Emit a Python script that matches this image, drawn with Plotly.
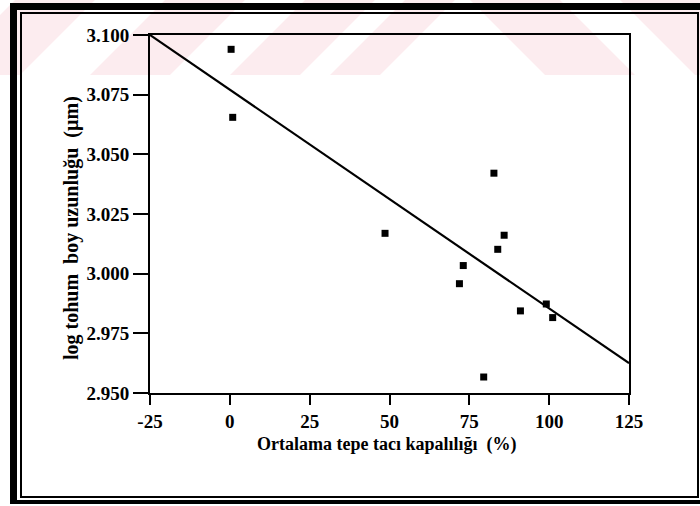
import plotly.graph_objects as go

# ---- data ----
canopy = [0.4, 0.9, 48.6, 73.1, 71.9, 82.7, 85.9, 83.9, 79.5, 91.0, 99.1, 101.1]
log_len = [3.094, 3.0655, 3.0169, 3.0034, 2.9958, 3.0421, 3.0161, 3.0102, 2.9567, 2.9844, 2.9873, 2.9816]
fit_x = [-25, 125]
fit_y = [3.100, 2.9625]
x_ticks = [-25, 0, 25, 50, 75, 100, 125]
x_tick_text = ["-25", "0", "25", "50", "75", "100", "125"]
y_ticks = [2.950, 2.975, 3.000, 3.025, 3.050, 3.075, 3.100]
y_tick_text = ["2.950", "2.975", "3.000", "3.025", "3.050", "3.075", "3.100"]
x_title = "Ortalama tepe tacı kapalılığı  (%)"
y_title = "log tohum  boy uzunluğu  (µm)"

W, H = 700, 506
L, R, T, B = 150, 629, 35, 393


def px(p):
    return (p - L) / (R - L)


def py(p):
    return (B - p) / (B - T)


FONT = "Liberation Serif"

fig = go.Figure()
fig.add_trace(go.Scatter(x=fit_x, y=fit_y, mode="lines",
                         line=dict(color="black", width=2.2), showlegend=False))
fig.add_trace(go.Scatter(x=canopy, y=log_len, mode="markers",
                         marker=dict(symbol="square", size=7, color="black"),
                         showlegend=False))

shapes = []
pink = "rgba(248,205,214,0.38)"
# faint watermark bands in the top strip
for b0, b1 in [(-60, 20), (90, 170), (230, 300), (330, 380)]:
    shapes.append(dict(type="path", xref="paper", yref="paper", layer="below",
                       path=f"M {px(b0)},{py(75)} L {px(b1)},{py(75)} L {px(b1+75)},{py(0)} L {px(b0+75)},{py(0)} Z",
                       fillcolor=pink, line=dict(width=0)))
for t0, t1 in [(470, 560), (620, 720)]:
    shapes.append(dict(type="path", xref="paper", yref="paper", layer="below",
                       path=f"M {px(t0)},{py(0)} L {px(t1)},{py(0)} L {px(t1+75)},{py(75)} L {px(t0+75)},{py(75)} Z",
                       fillcolor=pink, line=dict(width=0)))
# outer thick frame
shapes.append(dict(type="line", xref="paper", yref="paper", x0=px(13.5), x1=px(13.5), y0=py(3), y1=py(504),
                   line=dict(color="black", width=7)))
shapes.append(dict(type="line", xref="paper", yref="paper", x0=px(10), x1=px(705), y0=py(6.5), y1=py(6.5),
                   line=dict(color="black", width=7)))
shapes.append(dict(type="line", xref="paper", yref="paper", x0=px(10), x1=px(705), y0=py(502), y1=py(502),
                   line=dict(color="black", width=4)))
# inner thin frame
shapes.append(dict(type="rect", xref="paper", yref="paper", x0=px(21), x1=px(698), y0=py(13), y1=py(497),
                   line=dict(color="black", width=2), fillcolor="rgba(0,0,0,0)"))

annotations = [
    dict(text=f"<b>{x_title}</b>", xref="paper", yref="paper", x=px(386), y=py(444),
         xanchor="center", yanchor="middle", showarrow=False,
         font=dict(family=FONT, size=18, color="black")),
    dict(text=f"<b>{y_title}</b>", xref="paper", yref="paper", x=px(71), y=py(228),
         xanchor="center", yanchor="middle", showarrow=False, textangle=-90,
         font=dict(family=FONT, size=20, color="black")),
]

fig.update_layout(
    width=W, height=H,
    margin=dict(l=L, r=W - R, t=T, b=H - B),
    paper_bgcolor="white", plot_bgcolor="rgba(0,0,0,0)",
    font=dict(family=FONT, color="black"),
    shapes=shapes,
    annotations=annotations,
    xaxis=dict(range=[-25, 125], tickvals=x_ticks, ticktext=[f"<b>{t}</b>" for t in x_tick_text],
               ticks="outside", ticklen=10, tickwidth=2,
               tickcolor="black", showline=True, linecolor="black", linewidth=2, mirror=True,
               showgrid=False, zeroline=False,
               tickfont=dict(family=FONT, size=19, color="black")),
    yaxis=dict(range=[2.950, 3.100], tickvals=y_ticks, ticktext=[f"<b>{t}</b>" for t in y_tick_text],
               ticks="outside", ticklen=15, tickwidth=2, tickcolor="black", showline=True,
               linecolor="black", linewidth=2, mirror=True, showgrid=False, zeroline=False,
               tickfont=dict(family=FONT, size=19, color="black")),
)

fig.write_html("out.html")
